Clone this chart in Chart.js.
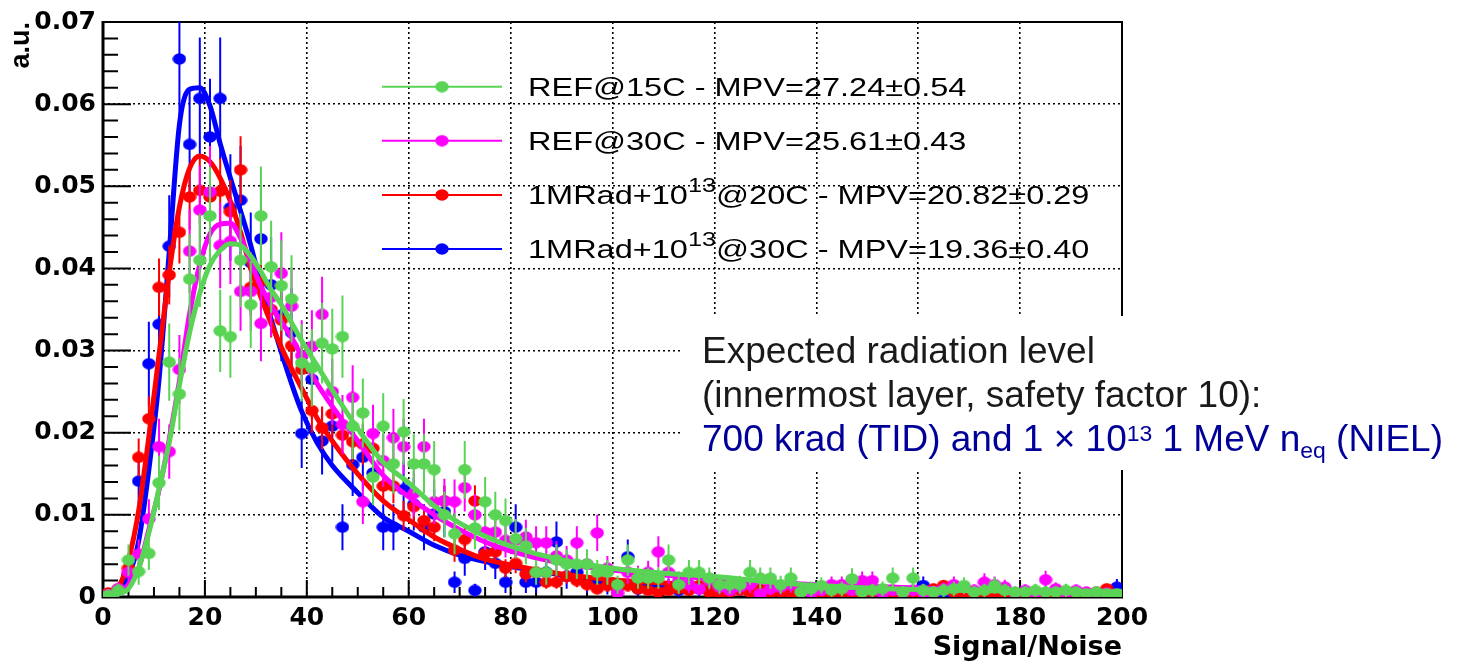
<!DOCTYPE html>
<html><head><meta charset="utf-8">
<script src="https://cdn.jsdelivr.net/npm/chart.js@4.4.1/dist/chart.umd.min.js"></script>
<style>html,body{margin:0;padding:0;background:#fff;}canvas{display:block;}</style>
</head><body>
<canvas id="c" width="1466" height="661"></canvas>
<script>
// ---------- categories (bin centres, Signal/Noise) ----------
const binCenters = [
  1,3,5,7,9,11,13,15,17,19,
  21,23,25,27,29,31,33,35,37,39,
  41,43,45,47,49,51,53,55,57,59,
  61,63,65,67,69,71,73,75,77,79,
  81,83,85,87,89,91,93,95,97,99,
  101,103,105,107,109,111,113,115,117,119,
  121,123,125,127,129,131,133,135,137,139,
  141,143,145,147,149,151,153,155,157,159,
  161,163,165,167,169,171,173,175,177,179,
  181,183,185,187,189,191,193,195,197,199];

// ---------- REF@15C (green) ----------
const refAt15C = [
  0.0002,0.0008,0.0045,0.0031,0.0053,0.0139,0.0286,0.0247,0.0387,0.0410,
  0.0464,0.0324,0.0317,0.0410,0.0356,0.0464,0.0402,0.0379,0.0363,0.0285,
  0.0279,0.0309,0.0302,0.0317,0.0208,0.0224,0.0146,0.0208,0.0162,0.0201,
  0.0162,0.0162,0.0155,0.0100,0.0077,0.0155,0.0084,0.0116,0.0100,0.0093,
  0.0071,0.0062,0.0030,0.0030,0.0045,0.0040,0.0040,0.0040,0.0030,0.0030,
  0.0015,0.0045,0.0023,0.0023,0.0023,0.0045,0.0015,0.0030,0.0030,0.0023,
  0.0015,0.0015,0.0015,0.0030,0.0023,0.0023,0.0015,0.0023,0.0006,0.0010,
  0.0014,0.0008,0.0010,0.0022,0.0006,0.0008,0.0010,0.0023,0.0006,0.0023,
  0.0008,0.0006,0.0008,0.0010,0.0014,0.0006,0.0008,0.0014,0.0008,0.0006,
  0.0006,0.0008,0.0006,0.0006,0.0008,0.0006,0.0004,0.0006,0.0004,0.0004];
const refAt15CErr = [
  0.0004,0.0008,0.0019,0.0016,0.0020,0.0033,0.0047,0.0044,0.0055,0.0057,
  0.0060,0.0050,0.0050,0.0057,0.0053,0.0060,0.0056,0.0055,0.0053,0.0047,
  0.0047,0.0049,0.0049,0.0050,0.0040,0.0042,0.0034,0.0040,0.0036,0.0040,
  0.0036,0.0036,0.0035,0.0028,0.0025,0.0035,0.0026,0.0030,0.0028,0.0027,
  0.0024,0.0022,0.0015,0.0015,0.0019,0.0018,0.0018,0.0018,0.0015,0.0015,
  0.0011,0.0019,0.0013,0.0013,0.0013,0.0019,0.0011,0.0015,0.0015,0.0013,
  0.0011,0.0011,0.0011,0.0015,0.0013,0.0013,0.0011,0.0013,0.0007,0.0009,
  0.0010,0.0008,0.0009,0.0013,0.0007,0.0008,0.0009,0.0013,0.0007,0.0013,
  0.0008,0.0007,0.0008,0.0009,0.0010,0.0007,0.0008,0.0010,0.0008,0.0007,
  0.0007,0.0008,0.0007,0.0007,0.0008,0.0007,0.0006,0.0007,0.0006,0.0006];

// ---------- REF@30C (magenta) ----------
const refAt30C = [
  0.0003,0.0010,0.0030,0.0052,0.0095,0.0183,0.0177,0.0277,0.0421,0.0471,
  0.0493,0.0428,0.0433,0.0372,0.0372,0.0333,0.0365,0.0394,0.0354,0.0294,
  0.0305,0.0344,0.0250,0.0210,0.0243,0.0116,0.0199,0.0166,0.0194,0.0183,
  0.0126,0.0183,0.0116,0.0117,0.0116,0.0133,0.0100,0.0079,0.0079,0.0069,
  0.0069,0.0073,0.0066,0.0066,0.0050,0.0045,0.0066,0.0040,0.0078,0.0035,
  0.0005,0.0030,0.0025,0.0030,0.0055,0.0030,0.0020,0.0015,0.0010,0.0020,
  0.0012,0.0008,0.0012,0.0015,0.0004,0.0010,0.0012,0.0015,0.0008,0.0005,
  0.0008,0.0015,0.0015,0.0008,0.0020,0.0020,0.0005,0.0008,0.0005,0.0008,
  0.0005,0.0005,0.0010,0.0015,0.0012,0.0008,0.0018,0.0015,0.0012,0.0005,
  0.0008,0.0005,0.0021,0.0010,0.0005,0.0008,0.0006,0.0004,0.0005,0.0003];
const refAt30CErr = [
  0.0004,0.0008,0.0014,0.0018,0.0024,0.0034,0.0033,0.0042,0.0051,0.0054,
  0.0056,0.0052,0.0052,0.0048,0.0048,0.0046,0.0048,0.0050,0.0047,0.0043,
  0.0044,0.0046,0.0040,0.0036,0.0039,0.0027,0.0035,0.0032,0.0035,0.0034,
  0.0028,0.0034,0.0027,0.0027,0.0027,0.0029,0.0025,0.0022,0.0022,0.0021,
  0.0021,0.0021,0.0020,0.0020,0.0018,0.0017,0.0020,0.0016,0.0022,0.0015,
  0.0006,0.0014,0.0013,0.0014,0.0019,0.0014,0.0011,0.0010,0.0008,0.0011,
  0.0009,0.0007,0.0009,0.0010,0.0005,0.0008,0.0009,0.0010,0.0007,0.0006,
  0.0007,0.0010,0.0010,0.0007,0.0011,0.0011,0.0006,0.0007,0.0006,0.0007,
  0.0006,0.0006,0.0008,0.0010,0.0009,0.0007,0.0011,0.0010,0.0009,0.0006,
  0.0007,0.0006,0.0011,0.0008,0.0006,0.0007,0.0006,0.0005,0.0006,0.0004];

// ---------- 1MRad+1e13 @20C (red) ----------
const irrAt20C = [
  0.0005,0.0010,0.0035,0.0170,0.0217,0.0377,0.0392,0.0444,0.0487,0.0495,
  0.0487,0.0494,0.0469,0.0520,0.0377,0.0384,0.0350,0.0337,0.0306,0.0277,
  0.0227,0.0206,0.0223,0.0197,0.0189,0.0186,0.0181,0.0135,0.0135,0.0099,
  0.0110,0.0093,0.0085,0.0117,0.0057,0.0070,0.0117,0.0053,0.0055,0.0035,
  0.0041,0.0028,0.0030,0.0018,0.0018,0.0025,0.0020,0.0015,0.0010,0.0014,
  0.0012,0.0014,0.0010,0.0008,0.0006,0.0008,0.0010,0.0008,0.0014,0.0006,
  0.0004,0.0006,0.0008,0.0006,0.0008,0.0005,0.0006,0.0004,0.0006,0.0008,
  0.0004,0.0005,0.0006,0.0004,0.0005,0.0006,0.0008,0.0004,0.0006,0.0003,
  0.0005,0.0010,0.0014,0.0006,0.0004,0.0003,0.0006,0.0003,0.0004,0.0003,
  0.0004,0.0003,0.0004,0.0003,0.0003,0.0004,0.0003,0.0006,0.0010,0.0003];
const irrAt20CErr = [
  0.0004,0.0006,0.0011,0.0023,0.0027,0.0035,0.0036,0.0038,0.0040,0.0040,
  0.0040,0.0040,0.0039,0.0041,0.0035,0.0035,0.0034,0.0033,0.0031,0.0030,
  0.0027,0.0026,0.0027,0.0025,0.0025,0.0025,0.0024,0.0021,0.0021,0.0018,
  0.0019,0.0017,0.0017,0.0019,0.0014,0.0015,0.0019,0.0013,0.0013,0.0011,
  0.0012,0.0010,0.0010,0.0008,0.0008,0.0009,0.0008,0.0007,0.0006,0.0007,
  0.0006,0.0007,0.0006,0.0005,0.0004,0.0005,0.0006,0.0005,0.0007,0.0004,
  0.0004,0.0004,0.0005,0.0004,0.0005,0.0004,0.0004,0.0004,0.0004,0.0005,
  0.0004,0.0004,0.0004,0.0004,0.0004,0.0004,0.0005,0.0004,0.0004,0.0003,
  0.0004,0.0006,0.0007,0.0004,0.0004,0.0003,0.0004,0.0003,0.0004,0.0003,
  0.0004,0.0003,0.0004,0.0003,0.0003,0.0004,0.0003,0.0004,0.0006,0.0003];

// ---------- 1MRad+1e13 @30C (blue) ----------
const irrAt30C = [
  0.0003,0.0008,0.0027,0.0141,0.0284,0.0332,0.0427,0.0655,0.0551,0.0607,
  0.0560,0.0607,0.0474,0.0483,0.0407,0.0436,0.0380,0.0343,0.0322,0.0199,
  0.0265,0.0190,0.0208,0.0085,0.0161,0.0170,0.0151,0.0085,0.0085,0.0131,
  0.0113,0.0085,0.0101,0.0104,0.0018,0.0047,0.0008,0.0055,0.0041,0.0018,
  0.0085,0.0018,0.0018,0.0030,0.0067,0.0025,0.0030,0.0018,0.0020,0.0015,
  0.0012,0.0049,0.0010,0.0015,0.0010,0.0012,0.0008,0.0015,0.0010,0.0008,
  0.0012,0.0008,0.0010,0.0006,0.0008,0.0008,0.0006,0.0010,0.0008,0.0005,
  0.0006,0.0008,0.0005,0.0006,0.0005,0.0004,0.0006,0.0004,0.0005,0.0005,
  0.0014,0.0004,0.0005,0.0004,0.0006,0.0004,0.0005,0.0004,0.0003,0.0005,
  0.0004,0.0003,0.0004,0.0005,0.0003,0.0004,0.0003,0.0004,0.0003,0.0012];
const irrAt30CErr = [
  0.0005,0.0008,0.0016,0.0036,0.0051,0.0055,0.0062,0.0077,0.0070,0.0074,
  0.0071,0.0074,0.0065,0.0066,0.0061,0.0063,0.0058,0.0056,0.0054,0.0042,
  0.0049,0.0041,0.0043,0.0028,0.0038,0.0039,0.0037,0.0028,0.0028,0.0034,
  0.0032,0.0028,0.0030,0.0031,0.0013,0.0021,0.0008,0.0022,0.0019,0.0013,
  0.0028,0.0013,0.0013,0.0016,0.0025,0.0015,0.0016,0.0013,0.0013,0.0012,
  0.0010,0.0021,0.0009,0.0012,0.0009,0.0010,0.0008,0.0012,0.0009,0.0008,
  0.0010,0.0008,0.0009,0.0007,0.0008,0.0008,0.0007,0.0009,0.0008,0.0007,
  0.0007,0.0008,0.0007,0.0007,0.0007,0.0006,0.0007,0.0006,0.0007,0.0007,
  0.0011,0.0006,0.0007,0.0006,0.0007,0.0006,0.0007,0.0006,0.0005,0.0007,
  0.0006,0.0005,0.0006,0.0007,0.0005,0.0006,0.0005,0.0006,0.0005,0.0010];

// ---------- Landau fit curves ----------
const fitX = [1,3,5,7,9,11,13,15,17,19, 21,23,25,27,29,31,33,35,37,39, 42,45,50,55,60,65,70,75,80, 90,100,110,120,130,140,160,180,200];
const fitRef15C = [0.0001,0.0004,0.0010,0.0035,0.0078,0.0132,0.0188,0.0258,0.0322,0.0370,
  0.0404,0.0422,0.0430,0.0428,0.0415,0.0396,0.0374,0.0356,0.0334,0.0312,
  0.0282,0.0252,0.0205,0.0164,0.0139,0.0111,0.0090,0.0074,0.0062,
  0.0045,0.0035,0.0029,0.0025,0.0019,0.0014,0.0009,0.0007,0.0006];
const fitRef30C = [0.0001,0.0004,0.0015,0.0035,0.0082,0.0130,0.0192,0.0263,0.0345,0.0405,
  0.0442,0.0454,0.0455,0.0437,0.0408,0.0378,0.0355,0.0335,0.0316,0.0293,
  0.0260,0.0232,0.0190,0.0148,0.0122,0.0100,0.0082,0.0067,0.0056,
  0.0041,0.0033,0.0027,0.0022,0.0018,0.0015,0.0011,0.0008,0.0006];
const fitIrr20C = [0.0006,0.0012,0.0045,0.0105,0.0195,0.0295,0.0395,0.0475,0.0522,0.0537,
  0.0530,0.0510,0.0482,0.0444,0.0400,0.0365,0.0333,0.0304,0.0278,0.0254,
  0.0218,0.0190,0.0150,0.0117,0.0094,0.0073,0.0058,0.0046,0.0039,
  0.0028,0.0021,0.0017,0.0014,0.0012,0.0010,0.0008,0.0007,0.0006];
const fitIrr30C = [0.0002,0.0008,0.0025,0.0068,0.0155,0.0265,0.0420,0.0575,0.0618,0.0620,
  0.0598,0.0552,0.0510,0.0470,0.0428,0.0380,0.0338,0.0298,0.0260,0.0226,
  0.0188,0.0160,0.0127,0.0097,0.0080,0.0063,0.0051,0.0043,0.0037,
  0.0027,0.0020,0.0016,0.0013,0.0011,0.0009,0.0007,0.0006,0.0005];

// ---------- texts ----------
const legendLabels = [
  'REF@15C - MPV=27.24\u00b10.54',
  'REF@30C - MPV=25.61\u00b10.43',
  '1MRad+10^{13}@20C - MPV=20.82\u00b10.29',
  '1MRad+10^{13}@30C - MPV=19.36\u00b10.40'];
const noteLines = [
  'Expected radiation level',
  '(innermost layer, safety factor 10):',
  '700 krad (TID) and 1 \u00d7 10^{13} 1 MeV n_{eq} (NIEL)'];
const xTickLabels = ['0','20','40','60','80','100','120','140','160','180','200'];
const yTickLabels = ['0','0.01','0.02','0.03','0.04','0.05','0.06','0.07'];
const xAxisTitle = 'Signal/Noise';
const yAxisTitle = 'a.u.';

// ---------- styles ----------
const seriesColors = ['#59d454', '#ff00ff', '#ff0000', '#0000ff'];
const seriesValues = [refAt15C, refAt30C, irrAt20C, irrAt30C];
const seriesErrors = [refAt15CErr, refAt30CErr, irrAt20CErr, irrAt30CErr];
const seriesFits = [fitRef15C, fitRef30C, fitIrr20C, fitIrr30C];

function ellipseMarker(color) {
  const c = document.createElement('canvas');
  c.width = 14; c.height = 12;
  const g = c.getContext('2d');
  g.fillStyle = color;
  g.beginPath(); g.ellipse(7, 6, 6.7, 5.7, 0, 0, Math.PI * 2); g.fill();
  return c;
}
const markers = seriesColors.map(ellipseMarker);

const datasets = [];
seriesColors.forEach((col, s) => {
  datasets.push({
    label: legendLabels[s] + ' fit',
    data: fitX.map((x, i) => ({x, y: seriesFits[s][i]})),
    showLine: true, borderColor: col, borderWidth: 5, pointRadius: 0,
    tension: 0.4, cubicInterpolationMode: 'monotone', fill: false
  });
  datasets.push({
    label: legendLabels[s],
    data: binCenters.map((x, i) => ({x, y: seriesValues[s][i]})),
    errors: seriesErrors[s], errColor: col,
    showLine: false, pointStyle: markers[s], pointRadius: 6,
    backgroundColor: col, borderWidth: 0
  });
});

const errorBars = {
  id: 'errorBars',
  beforeDatasetDraw(chart, args) {
    const ds = chart.data.datasets[args.index];
    if (!ds.errors) return;
    const ctx = chart.ctx, ca = chart.chartArea, ys = chart.scales.y;
    ctx.save();
    ctx.beginPath(); ctx.rect(ca.left, ca.top, ca.right - ca.left, ca.bottom - ca.top); ctx.clip();
    ctx.strokeStyle = ds.errColor; ctx.lineWidth = 2;
    ctx.beginPath();
    args.meta.data.forEach((el, i) => {
      const v = ds.data[i].y, e = ds.errors[i];
      ctx.moveTo(el.x, ys.getPixelForValue(v - e));
      ctx.lineTo(el.x, ys.getPixelForValue(v + e));
    });
    ctx.stroke();
    ctx.restore();
  }
};

const frame = {
  id: 'frame',
  beforeDatasetsDraw(chart) {
    const {ctx, chartArea: ca, scales: {x, y}} = chart;
    ctx.save();
    ctx.strokeStyle = '#000';
    ctx.lineWidth = 2;
    ctx.beginPath();
    for (let k = 0; k <= 40; k++) {
      const px = x.getPixelForValue(k * 5);
      const len = (k % 4 === 0) ? 17 : 10;
      ctx.moveTo(px, ca.bottom); ctx.lineTo(px, ca.bottom - len);
    }
    for (let k = 0; k <= 35; k++) {
      const py = y.getPixelForValue(k * 0.002);
      const len = (k % 5 === 0) ? 28 : 15;
      ctx.moveTo(ca.left, py); ctx.lineTo(ca.left + len, py);
    }
    ctx.stroke();
    ctx.lineWidth = 2;
    ctx.beginPath();
    ctx.moveTo(ca.left, ca.top); ctx.lineTo(ca.right, ca.top); ctx.lineTo(ca.right, ca.bottom);
    ctx.stroke();
    ctx.lineWidth = 3;
    ctx.beginPath();
    ctx.moveTo(ca.left, ca.top - 1); ctx.lineTo(ca.left, ca.bottom); ctx.lineTo(ca.right + 1, ca.bottom);
    ctx.stroke();
    ctx.restore();
  }
};

function drawRich(ctx, text, x, y, size, family, color, stretch, subScale, supDy, subDy) {
  const parts = [];
  text.split(/(\^\{[^}]*\}|_\{[^}]*\})/).forEach(p => {
    if (!p) return;
    if (p.startsWith('^{')) parts.push({t: p.slice(2, -1), k: 'sup'});
    else if (p.startsWith('_{')) parts.push({t: p.slice(2, -1), k: 'sub'});
    else parts.push({t: p, k: 'n'});
  });
  ctx.save();
  ctx.translate(x, y); ctx.scale(stretch, 1);
  ctx.fillStyle = color; ctx.textBaseline = 'alphabetic'; ctx.textAlign = 'left';
  let cx = 0;
  parts.forEach(p => {
    const s = p.k === 'n' ? size : size * subScale;
    ctx.font = s + 'px "' + family + '"';
    const dy = p.k === 'sup' ? supDy : (p.k === 'sub' ? subDy : 0);
    ctx.fillText(p.t, cx, dy);
    cx += ctx.measureText(p.t).width;
  });
  ctx.restore();
}

const overlay = {
  id: 'overlay',
  afterDraw(chart) {
    const ctx = chart.ctx;
    // legend (no frame, transparent)
    const rowY = [86.7, 140.7, 195, 249];
    rowY.forEach((yy, i) => {
      ctx.save();
      ctx.strokeStyle = seriesColors[i]; ctx.lineWidth = 2;
      ctx.beginPath(); ctx.moveTo(382, yy); ctx.lineTo(502, yy); ctx.stroke();
      ctx.drawImage(markers[i], 442 - 7, yy - 6);
      ctx.restore();
      drawRich(ctx, legendLabels[i], 528, yy + 9, 25, 'Liberation Sans', '#000', 1.3, 0.78, -12, 6);
    });
    // annotation box
    ctx.save();
    ctx.fillStyle = '#fff';
    ctx.fillRect(680, 316, 786, 154);
    ctx.restore();
    const colors = ['#1a1a1a', '#1a1a1a', '#000099'];
    const base = [363, 407, 451];
    noteLines.forEach((t, i) => drawRich(ctx, t, 702, base[i], 37, 'Liberation Sans', colors[i], 1, 0.62, -10, 7));
  }
};

new Chart(document.getElementById('c'), {
  type: 'scatter',
  data: {datasets},
  options: {
    responsive: false, animation: false, devicePixelRatio: 1,
    layout: {padding: {left: 0, top: 16, right: 344, bottom: 0}},
    plugins: {legend: {display: false}, tooltip: {enabled: false}},
    scales: {
      x: {
        type: 'linear', min: 0, max: 200,
        afterFit(s) { s.height = 64; },
        grid: {color: '#000', lineWidth: 1.6, drawTicks: false},
        border: {display: false, dash: [2, 3]},
        ticks: {stepSize: 20, padding: 6, color: '#000', maxRotation: 0, autoSkip: false,
                font: {family: 'DejaVu Sans', weight: 'bold', size: 25},
                callback: (v, i) => xTickLabels[i]},
        title: {display: true, text: xAxisTitle, align: 'end', color: '#000',
                font: {family: 'DejaVu Sans', weight: 'bold', size: 27, lineHeight: 1},
                padding: {top: 0, bottom: 0}}
      },
      y: {
        type: 'linear', min: 0, max: 0.07,
        afterFit(s) { s.width = 103; },
        grid: {color: '#000', lineWidth: 1.6, drawTicks: false},
        border: {display: false, dash: [2, 3]},
        ticks: {stepSize: 0.01, padding: 7, color: '#000', autoSkip: false,
                font: {family: 'DejaVu Sans', weight: 'bold', size: 25},
                callback: (v, i) => yTickLabels[i]},
        title: {display: true, text: yAxisTitle, align: 'end', color: '#000',
                font: {family: 'Liberation Sans', weight: 'bold', size: 27, lineHeight: 1},
                padding: {top: 8, bottom: 0}}
      }
    }
  },
  plugins: [errorBars, frame, overlay]
});
</script>
</body></html>
